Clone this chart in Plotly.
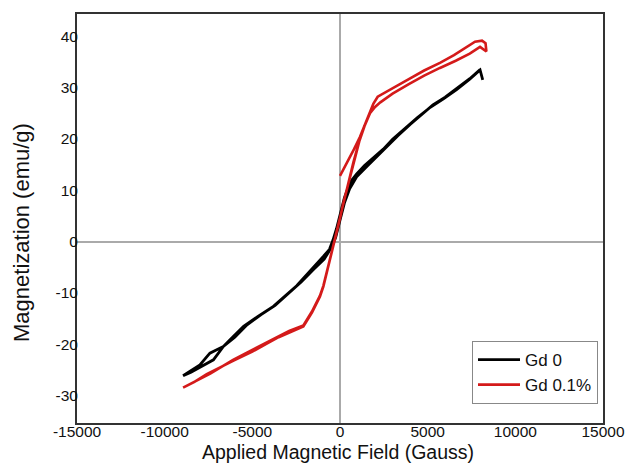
import plotly.graph_objects as go

# ---- data: Gd 0 (black) ----
gd0_H = [8140, 7990, 7400, 6650, 5900, 5130, 4400, 3700, 3000, 2470, 1900, 1400, 950, 570, 250, 0,
         -200, -400, -600, -950, -1700, -2470, -3200, -3800, -4700, -5500, -6300, -6650, -7000, -7420,
         -7990, -8450, -8950,
         -8500, -7990, -7600, -7220, -6650, -6000, -5300, -4500, -3700, -2900, -2200, -1500, -900,
         -500, -250, 0, 250, 550, 950, 1500, 2100, 2700, 3300, 4000, 4700, 5300, 6000, 6700, 7400, 7990]
gd0_M = [31.5, 33.4, 31.6, 29.6, 27.8, 26.1, 24.1, 22.0, 19.9, 18.0, 16.3, 14.8, 13.2, 11.5, 8.5, 5.0,
         2.5, 0.3, -1.5, -2.9, -5.8, -8.6, -10.8, -12.6, -14.6, -16.5, -19.2, -20.4, -21.0, -21.7,
         -24.0, -25.0, -26.1,
         -25.4, -24.4, -23.8, -23.0, -20.4, -18.6, -16.2, -14.2, -12.4, -10.0, -7.8, -5.4, -3.4,
         -1.2, 0.8, 4.2, 7.5, 10.3, 12.6, 14.5, 16.6, 18.6, 20.6, 22.8, 24.8, 26.6, 28.1, 29.9, 31.7, 33.5]

# ---- data: Gd 0.1% (red) ----
gd01_H = [0, 400, 800, 1141, 1500, 1900, 2150, 3000, 3900, 4800, 5700, 6500, 7200, 7700, 8100, 8300, 8350,
          7986, 7400, 6600, 5700, 4800, 3900, 3000, 2300, 2000, 1711, 1400, 1100, 760, 500, 190, 0,
          -300, -600, -950, -1141, -1600, -2090, -2850, -3500, -4200, -5000, -6100, -7000, -7600, -8300, -8950,
          -8200, -7400, -6100, -4200, -2900, -2090, -1600, -1141, -950, -600, -300, 0, 190, 500, 760, 1100, 1400]
gd01_M = [12.8, 15.3, 18.0, 20.4, 23.5, 26.8, 28.2, 29.9, 31.6, 33.3, 34.8, 36.3, 37.9, 38.9, 39.1, 38.6, 37.0,
          37.9, 36.6, 35.2, 33.8, 32.3, 30.6, 28.8, 27.1, 26.2, 25.0, 22.5, 19.5, 15.2, 11.5, 7.5, 4.5,
          0.3, -4.0, -8.75, -10.7, -13.8, -16.5, -17.6, -18.6, -19.9, -21.4, -23.2, -24.8, -25.8, -27.3, -28.4,
          -27.1, -25.7, -23.0, -19.7, -17.4, -16.3, -13.6, -10.5, -8.6, -3.8, 0.5, 4.7, 7.7, 11.7, 15.4, 19.6, 22.6]

x_ticks = [-15000, -10000, -5000, 0, 5000, 10000, 15000]
y_ticks = [-30, -20, -10, 0, 10, 20, 30, 40]

FONT = "Liberation Sans, Arial, sans-serif"

fig = go.Figure()
fig.add_trace(go.Scatter(x=gd0_H, y=gd0_M, mode="lines", name="Gd 0",
                         line=dict(color="#000000", width=2.8)))
fig.add_trace(go.Scatter(x=gd01_H, y=gd01_M, mode="lines", name="Gd 0.1%",
                         line=dict(color="#d41a1a", width=2.6)))

fig.update_layout(
    width=625, height=464,
    margin=dict(l=77, r=22, t=14, b=41),
    paper_bgcolor="white", plot_bgcolor="white",
    font=dict(family=FONT, color="#111111", size=15),
    showlegend=True,
    legend=dict(x=0.9905, xanchor="right", y=0.2005, yanchor="top",
                bordercolor="#888888", borderwidth=1, bgcolor="white",
                font=dict(size=17, family=FONT, color="#111111"),
                itemwidth=42, tracegroupgap=0),
    xaxis=dict(range=[-15000, 15000], tickvals=x_ticks, ticktext=[str(v) for v in x_ticks],
               showgrid=False, zeroline=True, zerolinecolor="#aaaaaa", zerolinewidth=1.5,
               showline=True, linecolor="#333333", linewidth=2, mirror=True, automargin=False,
               ticks="", ticklen=0, tickfont=dict(size=15.5, family=FONT),
               ticklabelstandoff=-7),
    yaxis=dict(range=[-35.3, 44.3], tickvals=y_ticks, ticktext=[str(v) for v in y_ticks],
               showgrid=False, zeroline=True, zerolinecolor="#aaaaaa", zerolinewidth=1.5,
               showline=True, linecolor="#333333", linewidth=2, mirror=True, automargin=False,
               ticks="", ticklen=0, tickfont=dict(size=15.5, family=FONT),
               ticklabelstandoff=-6),
    annotations=[
        dict(text="Applied Magnetic Field (Gauss)", xref="paper", yref="paper",
             x=0.496, y=-0.072, xanchor="center", yanchor="middle", showarrow=False,
             font=dict(size=19.5, family=FONT, color="#111111")),
        dict(text="Magnetization (emu/g)", xref="paper", yref="paper",
             x=-0.1046, y=0.467, xanchor="center", yanchor="middle", showarrow=False,
             textangle=-90, font=dict(size=22, family=FONT, color="#111111")),
    ],
)

fig.write_html("out.html", config={"displayModeBar": False},
               post_script="document.body.style.margin='0';")
